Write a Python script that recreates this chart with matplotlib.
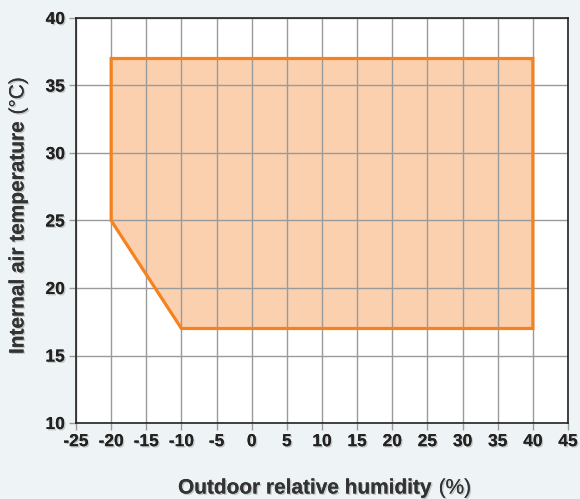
import matplotlib
matplotlib.use("Agg")
import matplotlib.pyplot as plt
import matplotlib.patheffects as pe

plt.rcParams['font.family'] = ['Liberation Sans', 'DejaVu Sans']
plt.rcParams['axes.unicode_minus'] = False

# Data: operating envelope polygon
humidity = [-20, 40, 40, -10, -20]
temperature = [37, 37, 17, 17, 25]
xticks = list(range(-25, 50, 5))
yticks = list(range(10, 45, 5))

bg = '#eef4f6'
fig = plt.figure(figsize=(5.8, 4.99), dpi=100, facecolor=bg)
ax = fig.add_axes([76/580, 1-423/499, (568-76)/580, (423-18)/499])
ax.set_facecolor('white')
ax.fill(humidity, temperature, facecolor='#fbd0ae', edgecolor='none', zorder=1)
ax.set_xlim(-25, 45)
ax.set_ylim(10, 40)
ax.set_xticks(xticks)
ax.set_yticks(yticks)
ax.grid(True, color='#9a9a9a', linewidth=1.0, zorder=2)
ax.set_axisbelow(False)
ax.fill(humidity, temperature, facecolor='none', edgecolor='#f5821f', linewidth=2.3, joinstyle='miter', zorder=3)
for s in ax.spines.values():
    s.set_color('#222222')
    s.set_linewidth(1.2)
    s.set_zorder(4)
ax.tick_params(direction='out', length=5, width=1, color='#9a9a9a', labelsize=12.5, labelcolor='#222222', pad=3)
shadow = [pe.withSimplePatchShadow(offset=(1, -1), shadow_rgbFace='#999999', alpha=0.5), pe.Normal()]
for lab in ax.get_xticklabels() + ax.get_yticklabels():
    lab.set_fontweight('bold')
    lab.set_path_effects(shadow)

# x label
xl = fig.text(178/580, 1-488/499, 'Outdoor relative humidity', fontsize=15, fontweight='bold',
              color='#333333', ha='left', va='center', path_effects=shadow)
ax.annotate(' (%)', xy=(1, 0.5), xycoords=xl, fontsize=15, color='#333333', ha='left', va='center',
            path_effects=shadow, annotation_clip=False)
# y label
yl = fig.text(18/580, 1-354/499, 'Internal air temperature', fontsize=15, fontweight='bold',
              color='#333333', rotation=90, ha='center', va='bottom', path_effects=shadow)
ax.annotate(' (°C)', xy=(0.5, 1), xycoords=yl, fontsize=15, color='#333333', rotation=90,
            ha='center', va='bottom', path_effects=shadow, annotation_clip=False)

fig.savefig('out.png', dpi=100, facecolor=bg)
